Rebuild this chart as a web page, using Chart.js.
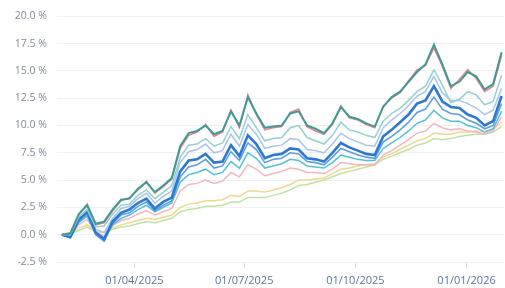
<!DOCTYPE html>
<html>
<head>
<meta charset="utf-8">
<script src="https://cdn.jsdelivr.net/npm/chart.js@4.4.0/dist/chart.umd.min.js"></script>
<style>
  body { margin: 0; background: #fff; }
  #wrap { width: 505px; height: 288px; position: relative; }
</style>
</head>
<body>
<div id="wrap"><canvas id="mycanvas"></canvas></div>
<script>
// weekly closing dates
var dates = [
  '2025-01-31','2025-02-07','2025-02-14','2025-02-21','2025-02-28','2025-03-07','2025-03-14','2025-03-21','2025-03-28',
  '2025-04-04','2025-04-11','2025-04-18','2025-04-25','2025-05-02','2025-05-09','2025-05-16','2025-05-23','2025-05-30',
  '2025-06-06','2025-06-13','2025-06-20','2025-06-27','2025-07-04','2025-07-11','2025-07-18','2025-07-25',
  '2025-08-01','2025-08-08','2025-08-15','2025-08-22','2025-08-29','2025-09-05','2025-09-12','2025-09-19','2025-09-26',
  '2025-10-03','2025-10-10','2025-10-17','2025-10-24','2025-10-31','2025-11-07','2025-11-14','2025-11-21','2025-11-28',
  '2025-12-05','2025-12-12','2025-12-19','2025-12-26','2026-01-02','2026-01-09','2026-01-16','2026-01-23','2026-01-30'
];

var tickDates = ['2025-04-01', '2025-07-01', '2025-10-01', '2026-01-01'];
var tickLabels = ['01/04/2025', '01/07/2025', '01/10/2025', '01/01/2026'];

// cumulative performance in %
var teal = [0.0, 0.1, 1.9, 2.7, 1.0, 1.2, 2.3, 3.2, 3.3, 4.2, 4.8, 3.9, 4.5, 5.2, 8.1, 9.3, 9.5, 10.0, 9.2, 9.5, 11.3, 10.0, 12.6, 11.1, 9.8, 9.9, 10.0, 11.1, 11.3, 10.0, 9.7, 9.3, 10.2, 11.7, 10.8, 10.6, 10.2, 9.9, 11.7, 12.6, 13.1, 14.0, 14.9, 15.6, 17.4, 15.6, 13.6, 14.0, 14.9, 14.5, 13.3, 13.8, 16.7];
var pink = [0.0, 0.2, 1.8, 2.8, 0.9, 1.1, 2.2, 3.1, 3.4, 4.1, 4.9, 3.8, 4.4, 5.1, 7.9, 9.1, 9.4, 10.1, 9.0, 9.4, 11.4, 9.8, 12.8, 11.0, 9.6, 9.8, 9.9, 11.2, 11.5, 9.9, 9.5, 9.2, 10.1, 11.8, 10.7, 10.5, 10.1, 9.8, 11.8, 12.5, 13.0, 14.1, 15.1, 15.5, 17.1, 15.4, 13.4, 14.2, 15.1, 14.3, 13.1, 13.6, 16.4];
var lightTeal = [0.0, 0.0, 1.6, 2.3, 0.7, 0.8, 1.9, 2.7, 2.8, 3.6, 4.1, 3.3, 3.9, 4.5, 7.1, 8.2, 8.3, 8.8, 8.1, 8.4, 9.9, 8.8, 11.0, 9.8, 8.6, 8.8, 8.9, 9.8, 10.0, 8.9, 8.6, 8.3, 9.1, 10.3, 9.6, 9.4, 9.1, 8.9, 10.4, 11.1, 11.6, 12.3, 13.1, 13.6, 15.1, 13.7, 12.1, 12.4, 13.1, 12.8, 11.9, 12.2, 14.6];
var lightBlue = [0.0, 0.0, 1.5, 2.3, 0.5, 0.2, 1.5, 2.4, 2.6, 3.3, 3.8, 2.9, 3.5, 4.0, 6.6, 7.6, 7.8, 8.3, 7.5, 7.7, 9.2, 8.1, 10.1, 9.2, 7.9, 8.1, 8.2, 8.8, 8.7, 7.8, 7.7, 7.5, 8.3, 9.3, 8.8, 8.5, 8.2, 8.1, 9.8, 10.5, 11.1, 11.8, 12.7, 13.1, 14.5, 13.0, 12.3, 12.3, 12.0, 11.6, 11.0, 11.4, 13.4];
var blue = [0.0, -0.2, 1.4, 2.1, 0.2, -0.4, 1.2, 2.0, 2.3, 2.9, 3.3, 2.4, 3.0, 3.4, 5.8, 6.8, 6.9, 7.4, 6.6, 6.7, 8.2, 7.2, 9.1, 8.3, 7.0, 7.3, 7.4, 7.9, 7.8, 7.0, 6.9, 6.7, 7.5, 8.4, 8.0, 7.7, 7.4, 7.3, 9.0, 9.6, 10.3, 11.0, 12.0, 12.3, 13.6, 12.2, 11.7, 11.6, 11.0, 10.7, 10.0, 10.4, 12.7];
var midBlue = [0.0, -0.3, 1.2, 1.9, 0.0, -0.6, 1.0, 1.8, 2.0, 2.6, 3.0, 2.2, 2.7, 3.1, 5.3, 6.2, 6.4, 6.9, 6.1, 6.3, 7.6, 6.8, 8.4, 7.8, 6.6, 6.9, 7.0, 7.5, 7.4, 6.7, 6.6, 6.4, 7.1, 7.9, 7.6, 7.3, 7.1, 7.0, 8.5, 9.0, 9.6, 10.3, 11.2, 11.5, 12.6, 11.5, 11.1, 11.0, 10.5, 10.2, 9.7, 10.0, 12.0];
var cyan = [0.0, -0.1, 1.1, 1.7, 0.1, -0.3, 0.9, 1.5, 1.8, 2.3, 2.7, 2.1, 2.5, 2.9, 4.8, 5.5, 5.7, 6.0, 5.5, 5.7, 6.7, 6.1, 7.5, 7.0, 6.1, 6.3, 6.5, 6.9, 6.8, 6.3, 6.2, 6.1, 6.6, 7.3, 7.1, 6.9, 6.8, 6.8, 7.9, 8.4, 8.9, 9.5, 10.2, 10.5, 11.4, 10.7, 10.4, 10.4, 10.0, 9.8, 9.4, 9.7, 11.3];
var lightPink = [0.0, 0.0, 0.9, 1.4, 0.2, -0.1, 0.8, 1.3, 1.5, 1.9, 2.2, 1.8, 2.1, 2.4, 4.0, 4.6, 4.7, 5.0, 4.7, 4.9, 5.7, 5.3, 6.4, 6.0, 5.4, 5.6, 5.8, 6.1, 6.0, 5.7, 5.7, 5.6, 6.0, 6.6, 6.5, 6.4, 6.4, 6.4, 7.3, 7.7, 8.2, 8.7, 9.3, 9.5, 10.2, 9.8, 9.6, 9.7, 9.5, 9.4, 9.2, 9.5, 10.8];
var yellow = [0.0, 0.0, 0.6, 0.9, 0.3, 0.2, 0.6, 0.9, 1.1, 1.3, 1.5, 1.4, 1.6, 1.8, 2.5, 2.8, 2.9, 3.1, 3.1, 3.2, 3.6, 3.5, 4.0, 4.0, 3.9, 4.1, 4.3, 4.6, 5.0, 5.0, 5.1, 5.2, 5.6, 6.0, 6.1, 6.3, 6.4, 6.5, 7.1, 7.4, 7.8, 8.2, 8.6, 8.8, 9.3, 9.2, 9.2, 9.4, 9.4, 9.5, 9.4, 9.7, 10.3];
var green = [0.0, 0.0, 0.4, 0.7, 0.3, 0.2, 0.5, 0.7, 0.8, 1.0, 1.2, 1.1, 1.3, 1.5, 2.1, 2.3, 2.4, 2.6, 2.6, 2.7, 3.0, 3.0, 3.4, 3.4, 3.4, 3.6, 3.8, 4.1, 4.5, 4.6, 4.8, 5.0, 5.3, 5.6, 5.8, 6.0, 6.2, 6.4, 6.9, 7.2, 7.5, 7.8, 8.2, 8.4, 8.8, 8.7, 8.8, 9.0, 9.1, 9.2, 9.2, 9.4, 9.9];

function dayNum(s) {
  var p = s.split('-');
  return (Date.UTC(+p[0], +p[1] - 1, +p[2]) - Date.UTC(2025, 0, 1)) / 86400000;
}

function pts(values) {
  var out = [];
  for (var i in values) {
    out.push({ x: dayNum(dates[i]), y: values[i] });
  }
  return out;
}

function line(values, color, width) {
  return {
    data: pts(values),
    borderColor: color,
    backgroundColor: color,
    borderWidth: width,
    pointRadius: 0,
    tension: 0,
    fill: false
  };
}

var chartdata = {
  datasets: [
    line(teal, '#3c9b95', 2),
    line(pink, '#ee8590', 1.6),
    line(lightTeal, '#93d1cf', 1.5),
    line(blue, '#2b78d5', 2.6),
    line(lightBlue, '#a7c5ec', 1.5),
    line(midBlue, '#5d9de4', 1.6),
    line(cyan, '#52c0d9', 1.5),
    line(lightPink, '#f2b6bf', 1.5),
    line(yellow, '#eed98c', 1.5),
    line(green, '#c0e3a4', 1.5)
  ]
};

var ctx = document.getElementById('mycanvas');

var lineGraph = new Chart(ctx, {
  type: 'line',
  data: chartdata,
  options: {
    responsive: true,
    maintainAspectRatio: false,
    animation: false,
    layout: { padding: { top: 8, right: 1, bottom: 0, left: 0 } },
    plugins: { legend: { display: false }, tooltip: { enabled: false } },
    scales: {
      x: {
        type: 'linear',
        min: 26,
        max: 396,
        border: { display: false },
        grid: { drawOnChartArea: false, tickLength: 6, color: '#d9dee6' },
        afterBuildTicks: function(scale) {
          scale.ticks = tickDates.map(function(d) { return { value: dayNum(d) }; });
        },
        afterFit: function(scale) { scale.height = 26; },
        ticks: {
          padding: 6,
          maxRotation: 0,
          autoSkip: false,
          color: '#5f7496',
          font: { family: 'Open Sans', size: 11 },
          callback: function(v) {
            var i = tickDates.map(dayNum).indexOf(v);
            return i >= 0 ? tickLabels[i] : '';
          }
        }
      },
      y: {
        min: -2.5,
        max: 20,
        border: { display: false },
        grid: { drawTicks: false, color: '#edf0f4' },
        afterFit: function(scale) { scale.width = 57; },
        ticks: {
          stepSize: 2.5,
          padding: 10,
          color: '#838b99',
          font: { family: 'Open Sans', size: 10.5 },
          callback: function(v) { return v.toFixed(1) + ' %'; }
        }
      }
    }
  }
});
</script>
</body>
</html>
